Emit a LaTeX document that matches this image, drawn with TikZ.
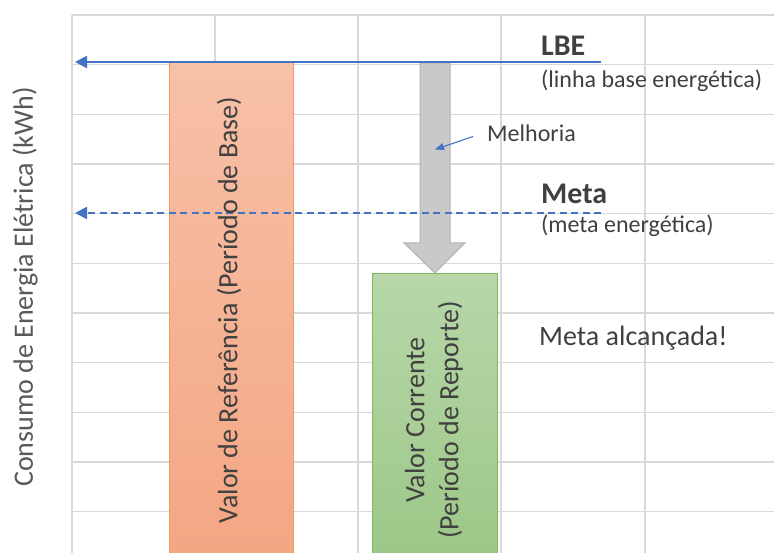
\documentclass[tikz,border=0pt]{standalone}
\usepackage{fontspec}
\setmainfont{Carlito}
\usetikzlibrary{arrows.meta}
\definecolor{gridc}{HTML}{D9D9D9}
\definecolor{bluec}{HTML}{4472C4}
\definecolor{txt}{HTML}{404040}
\definecolor{axtxt}{HTML}{595959}
\definecolor{orTop}{HTML}{F7C1A8}
\definecolor{orBot}{HTML}{F4A682}
\definecolor{orEdge}{HTML}{F19A63}
\definecolor{grTop}{HTML}{B7D7A9}
\definecolor{grBot}{HTML}{9CC787}
\definecolor{grEdge}{HTML}{7DB85A}
\definecolor{arFill}{HTML}{C9C9C9}
\definecolor{arEdge}{HTML}{B3B3B3}
\tikzset{
  gridline/.style={draw=gridc, line width=1.4pt},
  barbox/.style={rectangle, inner sep=0pt, line width=1pt, anchor=north west},
  blueline/.style={draw=bluec, line width=2pt},
  lbl/.style={text=txt, inner sep=0pt, anchor=base west},
  bartxt/.style={text=txt, inner sep=0pt, rotate=90, font=\fontsize{28}{34}\selectfont, align=center},
}
\begin{document}
\begin{tikzpicture}[x=1pt,y=-1pt]
\clip (0,0) rectangle (774,553);
\fill[white] (0,0) rectangle (774,553);
% grid
\foreach \x in {72,215,358,501,645} \draw[gridline] (\x,15) -- (\x,553);
\foreach \k in {0,...,10} \draw[gridline] (72,15+49.65*\k) -- (774,15+49.65*\k);
% bars
\node[barbox, top color=orTop, bottom color=orBot, draw=orEdge,
      minimum width=124pt, minimum height=500pt] (ref) at (169,62) {};
\node[barbox, top color=grTop, bottom color=grBot, draw=grEdge,
      minimum width=125pt, minimum height=290pt] (cor) at (372,273) {};
% improvement arrow
\filldraw[fill=arFill, draw=arEdge, line width=1pt]
  (420,63) -- (450,63) -- (450,243) -- (465,243) -- (cor.north) -- (404,243) -- (420,243) -- cycle;
% baseline and target lines
\coordinate (lbeR) at (601,62);
\coordinate (lbeL) at (75,62);
\draw[blueline, -{Triangle[length=12pt,width=12pt]}] (lbeR) -- (lbeL);
\coordinate (metR) at (601,213);
\coordinate (metL) at (75,213);
\draw[blueline, dash pattern=on 7pt off 4.5pt, -{Triangle[length=12pt,width=12pt]}] (metR) -- (metL);
% labels
\node[lbl, font=\fontsize{30}{36}\selectfont\bfseries] (lbe) at (541,56) {LBE};
\node[lbl, font=\fontsize{24}{28}\selectfont] (lbesub) at (541,88) {(linha base energética)};
\node[lbl, font=\fontsize{30}{36}\selectfont\bfseries] (meta) at (541,204) {Meta};
\node[lbl, font=\fontsize{24}{28}\selectfont] (metasub) at (541,233) {(meta energética)};
\node[lbl, font=\fontsize{24}{28}\selectfont] (mel) at (487,142) {Melhoria};
\node[lbl, font=\fontsize{28}{34}\selectfont] (ok) at (539,345) {Meta alcançada!};
\coordinate (melS) at (473,136.5);
\coordinate (melT) at (435,149.5);
\draw[draw=bluec, line width=1.1pt, -{Triangle[length=9pt,width=7pt]}] (melS) -- (melT);
% axis label
\node[text=axtxt, inner sep=0pt, rotate=90, font=\fontsize{28}{34}\selectfont] (ylab) at (25,287) {Consumo de Energia Elétrica (kWh)};
% bar texts
\node[bartxt] (reftxt) at (229,310) {Valor de Referência (Período de Base)};
\node[bartxt] (cortxt) at (434,420) {Valor Corrente\\(Período de Reporte)};
\end{tikzpicture}
\end{document}
